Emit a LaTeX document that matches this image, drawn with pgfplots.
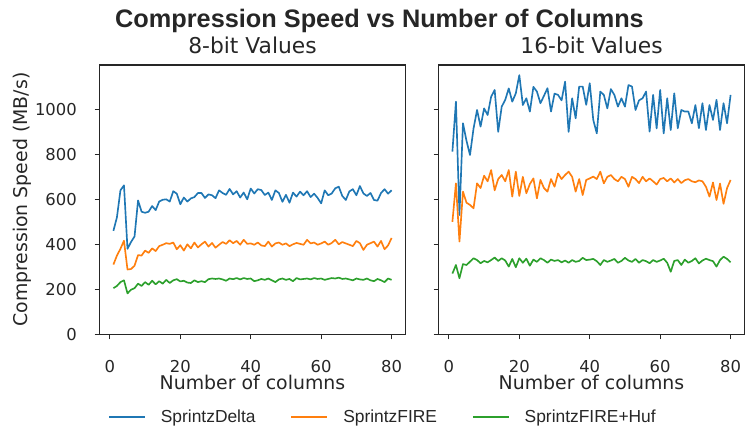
\documentclass[border=0pt]{standalone}
\usepackage{pgfplots}
\pgfplotsset{compat=1.18}
\usepackage{pgfplotstable}
\usepackage{fontspec}
\setmainfont{DejaVu Sans}
\newfontfamily\arialfont{Liberation Sans}
\definecolor{c0}{HTML}{1F77B4}
\definecolor{c1}{HTML}{FF7F0E}
\definecolor{c2}{HTML}{2CA02C}
\definecolor{fg}{HTML}{262626}

\pgfplotstableread{
n d f h
1 460 310 205
2 520 350 215
3 640 380 232
4 662 416 240
5 380 288 182
6 410 290 198
7 435 305 205
8 595 352 225
9 545 350 215
10 540 372 232
11 545 362 220
12 570 382 238
13 552 370 222
14 590 392 236
15 598 398 225
16 600 405 242
17 590 402 228
18 636 408 240
19 625 378 245
20 578 396 235
21 608 372 238
22 590 400 230
23 604 382 228
24 610 408 240
25 628 386 232
26 628 400 236
27 606 412 232
28 622 390 245
29 618 406 248
30 605 385 246
31 640 398 248
32 628 410 244
33 620 402 238
34 646 418 248
35 622 405 245
36 636 415 250
37 608 398 244
38 630 420 250
39 600 402 246
40 648 404 248
41 626 398 236
42 645 408 240
43 641 395 246
44 619 392 242
45 630 412 248
46 597 390 240
47 640 404 232
48 628 408 244
49 589 398 248
50 620 404 242
51 585 392 246
52 630 400 236
53 612 406 250
54 634 402 244
55 618 398 246
56 636 420 248
57 610 404 244
58 625 408 250
59 606 398 246
60 582 404 248
61 640 412 242
62 618 398 246
63 626 406 250
64 649 420 248
65 656 400 252
66 615 410 246
67 597 404 248
68 635 398 244
69 645 392 240
70 618 415 248
71 659 405 244
72 626 375 242
73 615 398 248
74 628 405 240
75 597 412 236
76 594 390 246
77 628 415 240
78 645 378 232
79 625 395 248
80 640 428 242
}\leftdata

\pgfplotstableread{
n d f h
1 812 500 270
2 1034 671 308
3 530 412 249
4 938 634 312
5 860 585 308
6 797 575 323
7 915 560 338
8 997 671 330
9 923 650 316
10 1004 705 326
11 975 680 320
12 1056 730 330
13 1086 640 341
14 900 690 326
15 1012 708 338
16 1042 680 328
17 1093 730 301
18 1034 612 335
19 1071 723 298
20 1152 615 338
21 1019 700 318
22 1049 627 336
23 990 668 305
24 1100 693 332
25 1079 604 322
26 1027 686 338
27 1060 650 330
28 1094 634 318
29 990 690 332
30 1070 656 326
31 1064 715 330
32 1040 690 320
33 1123 708 328
34 900 723 318
35 1049 700 330
36 960 634 322
37 1101 690 326
38 1101 619 340
39 1020 686 330
40 1116 693 332
41 953 701 335
42 893 690 325
43 1079 723 308
44 1064 671 330
45 1004 700 322
46 1090 708 328
47 1064 690 335
48 1012 680 318
49 1049 700 326
50 1012 690 340
51 1108 656 328
52 1101 700 322
53 997 690 335
54 1040 672 318
55 1049 700 330
56 1079 680 325
57 901 693 316
58 1064 680 330
59 915 666 322
60 1086 690 328
61 893 695 336
62 1049 680 318
63 908 693 278
64 1071 675 326
65 916 690 330
66 997 672 308
67 990 685 332
68 990 690 318
69 938 680 326
70 1019 676 338
71 916 684 315
72 1027 680 328
73 908 656 336
74 1019 612 330
75 953 675 325
76 1042 597 301
77 908 670 330
78 1027 580 345
79 938 650 335
80 1064 686 320
}\rightdata

\pgfplotsset{
  panel/.style={
    scale only axis, width=306pt, height=269.3pt,
    xmin=-2.95, xmax=83.95, ymin=0, ymax=1197,
    xtick={0,20,40,60,80}, ytick={0,200,400,600,800,1000},
    xtick pos=lower, ytick pos=left,
    tick align=outside, major tick length=5pt,
    tick style={fg, line width=1.1pt},
    axis line style={fg, line width=1.1pt},
    ticklabel style={font=\fontsize{16.4pt}{19pt}\selectfont, text=fg, inner sep=0pt},
    xticklabel style={anchor=base, yshift=-32.7pt},
    yticklabel style={anchor=east, xshift=-17.5pt},
    /pgf/number format/assume math mode=true,
    /pgf/number format/1000 sep={},
    scaled ticks=false,
    label style={font=\fontsize{18.9pt}{22pt}\selectfont, text=fg, inner sep=0pt},
    title style={font=\fontsize{21.8pt}{25pt}\selectfont, text=fg, inner sep=0pt,
      at={(axis description cs:0.5,1)}, anchor=base, yshift=5.7pt},
    xlabel={Number of columns},
    xlabel style={at={(axis description cs:0.5,-0.2068)}, anchor=base},
    every axis plot/.append style={line width=1.65pt, mark=none, line join=round},
  }
}

\begin{document}
\begin{tikzpicture}
\path[use as bounding box] (0pt,0pt) rectangle (745pt,-428pt);
\node[anchor=base, font=\arialfont\bfseries\fontsize{25.3pt}{30pt}\selectfont, text=fg, inner sep=0pt]
  at (379.5pt,-27.3pt) {Compression Speed vs Number of Columns};

\begin{axis}[panel, at={(99.5pt,-65pt)}, anchor=north west,
  title={8-bit Values},
  ylabel={Compression Speed (MB/s)},
  ylabel style={at={(axis description cs:-0.2516,0.5)}, anchor=center},
  legend columns=3,
  legend style={at={(axis description cs:0.0278,-0.307)}, anchor=west,
    draw=none, fill=none, inner sep=0pt, text=fg,
    font=\arialfont\fontsize{17.4pt}{20pt}\selectfont,
    nodes={inner sep=0pt},
    /tikz/every odd column/.append style={column sep=15pt},
    /tikz/every even column/.append style={column sep=35pt}},
  legend image code/.code={\draw[#1] (0pt,0pt) -- (36pt,0pt);},
]
\addplot[c0] table[x=n, y=d] {\leftdata};
\addplot[c1] table[x=n, y=f] {\leftdata};
\addplot[c2] table[x=n, y=h] {\leftdata};
\legend{SprintzDelta, SprintzFIRE, SprintzFIRE+Huf}
\end{axis}

\begin{axis}[panel, at={(438.5pt,-65pt)}, anchor=north west,
  title={16-bit Values},
  yticklabels={},
]
\addplot[c0] table[x=n, y=d] {\rightdata};
\addplot[c1] table[x=n, y=f] {\rightdata};
\addplot[c2] table[x=n, y=h] {\rightdata};
\end{axis}
\end{tikzpicture}
\end{document}
